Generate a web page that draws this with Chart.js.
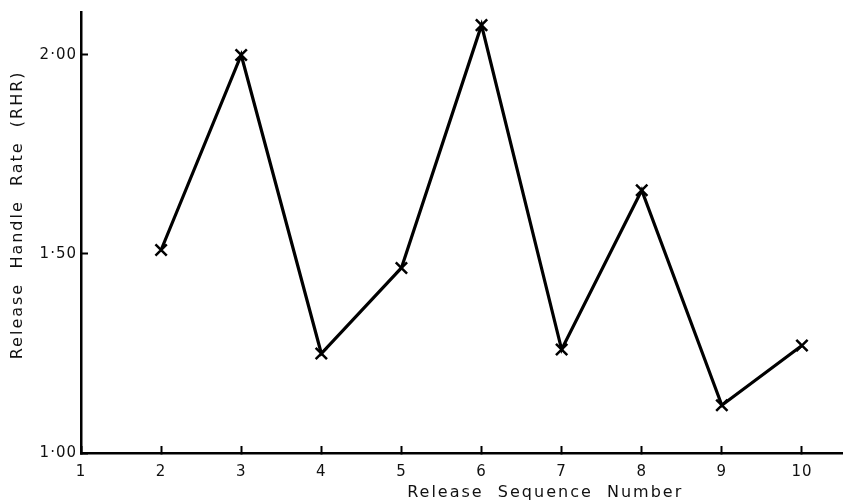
<!DOCTYPE html>
<html>
<head>
<meta charset="utf-8">
<script src="https://cdn.jsdelivr.net/npm/chart.js@4"></script>
<style>
  html, body { margin: 0; padding: 0; background: #fff; overflow: hidden; }
  #wrap { width: 847px; height: 502px; }
</style>
</head>
<body>
<div id="wrap"><canvas id="myChart"></canvas></div>
<script>
// data
let releaseNo = [2, 3, 4, 5, 6, 7, 8, 9, 10];
let rhr = [1.51, 2.00, 1.25, 1.465, 2.075, 1.26, 1.66, 1.12, 1.27];
let xTicks = [1, 2, 3, 4, 5, 6, 7, 8, 9, 10];
let yTicks = [1.00, 1.50, 2.00];

let xTitle = "Release  Sequence  Number";
let yTitle = "Release  Handle  Rate  (RHR)";

let points = releaseNo.map(function(x, i){ return { x: x, y: rhr[i] }; });

const font = "DejaVu Sans";

// axis titles drawn by hand so they sit where the original has them
const axisTitles = {
  id: "axisTitles",
  beforeDraw: function(chart){
    chart.ctx.letterSpacing = "1px";
  },
  afterDraw: function(chart){
    let ctx = chart.ctx;
    let area = chart.chartArea;
    ctx.save();
    ctx.fillStyle = "#111";
    ctx.font = "16px '" + font + "'";
    ctx.letterSpacing = "2px";
    ctx.textAlign = "center";
    ctx.textBaseline = "middle";
    ctx.fillText(xTitle, area.left + (area.right - area.left) * 0.61, 493);
    ctx.translate(18, area.top + (area.bottom - area.top) * 0.46);
    ctx.rotate(-Math.PI / 2);
    ctx.fillText(yTitle, 0, 0);
    ctx.restore();
  }
};

let fmt = function(v){ return Number(v).toFixed(2).replace(".", "\u00b7"); };

let myChart = document.getElementById("myChart").getContext("2d");

let chart = new Chart(myChart, {
  type: "line",
  data: {
    datasets: [{
      data: points,
      borderColor: "#000",
      borderWidth: 3.2,
      pointStyle: "crossRot",
      pointRadius: 8,
      pointBorderWidth: 2.5,
      pointBorderColor: "#000",
      pointBackgroundColor: "#000",
      tension: 0,
      fill: false,
      clip: false
    }]
  },
  plugins: [axisTitles],
  options: {
    responsive: true,
    maintainAspectRatio: false,
    animation: false,
    layout: { autoPadding: false, padding: { top: 12, right: 5, left: 0, bottom: 0 } },
    plugins: {
      legend: { display: false },
      tooltip: { enabled: false }
    },
    scales: {
      x: {
        type: "linear",
        min: 1,
        max: 10.5,
        afterBuildTicks: function(scale){
          scale.ticks = xTicks.map(function(v){ return { value: v }; });
        },
        afterFit: function(scale){
          scale.height = 49;
          scale.paddingLeft = 0;
          scale.paddingRight = 0;
        },
        grid: { drawOnChartArea: false, tickLength: -7, tickWidth: 2, tickColor: "#000" },
        border: { display: true, color: "#000", width: 2.5 },
        ticks: {
          padding: 17,
          color: "#111",
          font: { family: font, size: 15 },
          callback: function(v){ return String(v); }
        }
      },
      y: {
        min: 1,
        max: 2.108,
        afterBuildTicks: function(scale){
          scale.ticks = yTicks.map(function(v){ return { value: v }; });
        },
        afterFit: function(scale){
          scale.width = 81;
          scale.paddingTop = 0;
          scale.paddingBottom = 0;
        },
        grid: { drawOnChartArea: false, tickLength: -7, tickWidth: 2, tickColor: "#000" },
        border: { display: true, color: "#000", width: 2.5 },
        ticks: {
          padding: 11,
          color: "#111",
          font: { family: font, size: 15 },
          callback: function(v){ return fmt(v); }
        }
      }
    }
  }
});
</script>
</body>
</html>
